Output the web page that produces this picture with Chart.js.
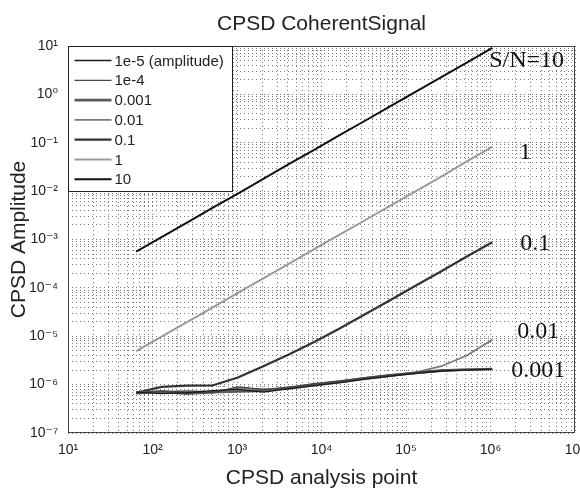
<!DOCTYPE html>
<html>
<head>
<meta charset="utf-8">
<script src="https://cdn.jsdelivr.net/npm/chart.js@4.4.0/dist/chart.umd.min.js"></script>
<style>
html, body { margin: 0; padding: 0; background: #fff; }
</style>
</head>
<body>
<canvas id="cpsdChart" width="580" height="489"></canvas>
<script>
// analysis points (powers of two, 2^6 .. 2^20)
const points = [64, 128, 256, 512, 1024, 2048, 4096, 8192, 16384, 32768, 65536, 131072, 262144, 524288, 1048576];

// CPSD amplitude per signal level
const amp1e5 = [7.0e-7, 6.5e-7, 6.8e-7, 7.5e-7, 8.0e-7, 7.0e-7, 8.2e-7, 9.5e-7, 1.1e-6, 1.3e-6, 1.5e-6, 1.7e-6, 1.9e-6, 2.0e-6, 2.1e-6];
const amp1e4 = [6.6e-7, 7.4e-7, 7.0e-7, 6.8e-7, 9.0e-7, 8.0e-7, 8.8e-7, 1.05e-6, 1.2e-6, 1.4e-6, 1.6e-6, 1.8e-6, 2.0e-6, 2.0e-6, 2.1e-6];
const amp0001 = [6.8e-7, 7.2e-7, 6.5e-7, 7.0e-7, 7.2e-7, 7.5e-7, 8.6e-7, 1.0e-6, 1.15e-6, 1.35e-6, 1.55e-6, 1.75e-6, 1.95e-6, 2.05e-6, 2.1e-6];
const amp001 = [6.5e-7, 7.0e-7, 7.4e-7, 7.0e-7, 8.4e-7, 8.0e-7, 8.2e-7, 9.6e-7, 1.1e-6, 1.3e-6, 1.5e-6, 1.8e-6, 2.4e-6, 4.0e-6, 8.5e-6];
const amp01 = [6.8e-7, 9.0e-7, 9.5e-7, 9.6e-7, 1.4e-6, 2.4e-6, 4.2e-6, 7.6e-6, 1.45e-5, 2.85e-5, 5.6e-5, 1.12e-4, 2.2e-4, 4.45e-4, 8.8e-4];
const amp1 = [4.9e-6, 9.8e-6, 1.96e-5, 3.9e-5, 7.9e-5, 1.58e-4, 3.15e-4, 6.3e-4, 1.26e-3, 2.5e-3, 5.0e-3, 1.0e-2, 2.0e-2, 4.1e-2, 8.2e-2];
const amp10 = [5.6e-4, 1.12e-3, 2.24e-3, 4.5e-3, 8.9e-3, 1.79e-2, 3.6e-2, 7.1e-2, 0.143, 0.285, 0.57, 1.14, 2.28, 4.55, 9.1];

const seriesNames = ['1e-5 (amplitude)', '1e-4', '0.001', '0.01', '0.1', '1', '10'];
const endLabels = ['', '', '0.001', '0.01', '0.1', '1', 'S/N=10'];

const xTickLabels = ['10¹', '10²', '10³', '10⁴', '10⁵', '10⁶', '10⁷'];   // 10^1 .. 10^7
const yTickLabels = ['10⁻⁷', '10⁻⁶', '10⁻⁵', '10⁻⁴', '10⁻³', '10⁻²', '10⁻¹', '10⁰', '10¹']; // 10^-7 .. 10^1

const allSeries = [amp1e5, amp1e4, amp0001, amp001, amp01, amp1, amp10];
const lineColors = ['#1a1a1a', '#444', '#5a5a5a', '#7a7a7a', '#333', '#9a9a9a', '#111'];
const lineWidths = [1.3, 1.3, 2.6, 1.8, 2.2, 2, 2];

const sansFont = "'Liberation Sans', Arial, 'DejaVu Sans', sans-serif";
const serifFont = "'Liberation Serif', 'Times New Roman', serif";

function decadeLabel(value, labels, firstExp) {
    const l = Math.log10(value);
    if (Math.abs(l - Math.round(l)) > 1e-9) return '';
    return labels[Math.round(l) - firstExp] || '';
}

// MATLAB style log ticks: 1..9 x 10^n
function logTicks(scale) {
    const lo = Math.round(Math.log10(scale.min));
    const hi = Math.round(Math.log10(scale.max));
    const ticks = [];
    for (let e = lo; e < hi; e++) {
        for (let s = 1; s <= 9; s++) {
            ticks.push({ value: Number((s * Math.pow(10, e)).toPrecision(3)) });
        }
    }
    ticks.push({ value: scale.max });
    scale.ticks = ticks;
}

const frameAndLegend = {
    id: 'frameAndLegend',
    afterDatasetsDraw(chart) {
        const { ctx } = chart;
        ctx.save();
        // end of line labels
        const offsets = { 'S/N=10': [-3, 13], '1': [27, 6], '0.1': [28, 2], '0.01': [25, -8], '0.001': [19, 2] };
        ctx.font = '24px ' + serifFont;
        ctx.fillStyle = '#111';
        ctx.textBaseline = 'middle';
        ctx.textAlign = 'left';
        chart.data.datasets.forEach((ds, i) => {
            const text = endLabels[i];
            if (!text) return;
            const meta = chart.getDatasetMeta(i);
            const last = meta.data[meta.data.length - 1];
            const off = offsets[text];
            ctx.fillText(text, last.x + off[0], last.y + off[1]);
        });
        ctx.restore();
    },
    afterDraw(chart) {
        const { ctx, chartArea } = chart;
        ctx.save();
        ctx.strokeStyle = '#444';
        ctx.lineWidth = 1;
        ctx.strokeRect(chartArea.left + 0.5, chartArea.top + 0.5, chartArea.width - 1, chartArea.height - 1);

        // legend box inside top-left corner
        const bx = chartArea.left + 0.5, by = chartArea.top + 0.5;
        ctx.fillStyle = '#fff';
        ctx.fillRect(bx, by, 164, 145);
        ctx.strokeStyle = '#222';
        ctx.strokeRect(bx, by, 164, 145);
        ctx.font = '15px ' + sansFont;
        ctx.textBaseline = 'middle';
        ctx.fillStyle = '#222';
        chart.data.datasets.forEach((ds, i) => {
            const y = by + 14 + i * 19.8;
            ctx.beginPath();
            ctx.strokeStyle = ds.borderColor;
            ctx.lineWidth = ds.borderWidth;
            ctx.moveTo(bx + 6, y);
            ctx.lineTo(bx + 43, y);
            ctx.stroke();
            ctx.fillText(ds.label, bx + 46, y + 1);
        });
        ctx.restore();
    }
};

new Chart('cpsdChart', {
    type: 'line',
    data: {
        datasets: allSeries.map((vals, i) => ({
            label: seriesNames[i],
            data: points.map((x, j) => ({ x: x, y: vals[j] })),
            borderColor: lineColors[i],
            borderWidth: lineWidths[i],
            pointRadius: 0,
            tension: 0,
            fill: false
        }))
    },
    options: {
        responsive: false,
        animation: false,
        devicePixelRatio: 1,
        layout: { padding: { left: 0, right: 5, top: 0, bottom: 0 } },
        plugins: {
            legend: { display: false },
            tooltip: { enabled: false },
            title: {
                display: true,
                fullSize: false,
                text: 'CPSD CoherentSignal',
                color: '#222',
                font: { family: sansFont, size: 21, weight: 'normal', lineHeight: 1 },
                padding: { top: 14, bottom: 11 }
            }
        },
        scales: {
            x: {
                type: 'logarithmic',
                min: 10,
                max: 1e7,
                afterBuildTicks: logTicks,
                afterFit(scale) {
                    scale.height = 56;
                    scale.paddingLeft = 0;
                    scale.paddingRight = 0;
                },
                grid: { color: '#7a7a7a', lineWidth: 1, drawTicks: false },
                border: { display: false, dash: [1, 3] },
                ticks: {
                    autoSkip: false,
                    maxRotation: 0,
                    padding: 9,
                    color: '#222',
                    font: { family: sansFont, size: 14 },
                    callback: (v) => decadeLabel(v, xTickLabels, 1)
                },
                title: {
                    display: true,
                    text: 'CPSD analysis point',
                    color: '#222',
                    font: { family: sansFont, size: 21, lineHeight: 1 },
                    padding: { top: 0, bottom: 0 }
                }
            },
            y: {
                type: 'logarithmic',
                min: 1e-7,
                max: 10,
                afterBuildTicks: logTicks,
                afterFit(scale) {
                    scale.width = 68;
                    scale.paddingTop = 0;
                    scale.paddingBottom = 0;
                },
                grid: { color: '#7a7a7a', lineWidth: 1, drawTicks: false },
                border: { display: false, dash: [1, 3] },
                ticks: {
                    autoSkip: false,
                    padding: 10,
                    color: '#222',
                    font: { family: sansFont, size: 14 },
                    callback: (v) => decadeLabel(v, yTickLabels, -7)
                },
                title: {
                    display: true,
                    text: 'CPSD Amplitude',
                    color: '#222',
                    font: { family: sansFont, size: 21, lineHeight: 1 },
                    padding: { top: 9, bottom: 0 }
                }
            }
        }
    },
    plugins: [frameAndLegend]
});
</script>
</body>
</html>
